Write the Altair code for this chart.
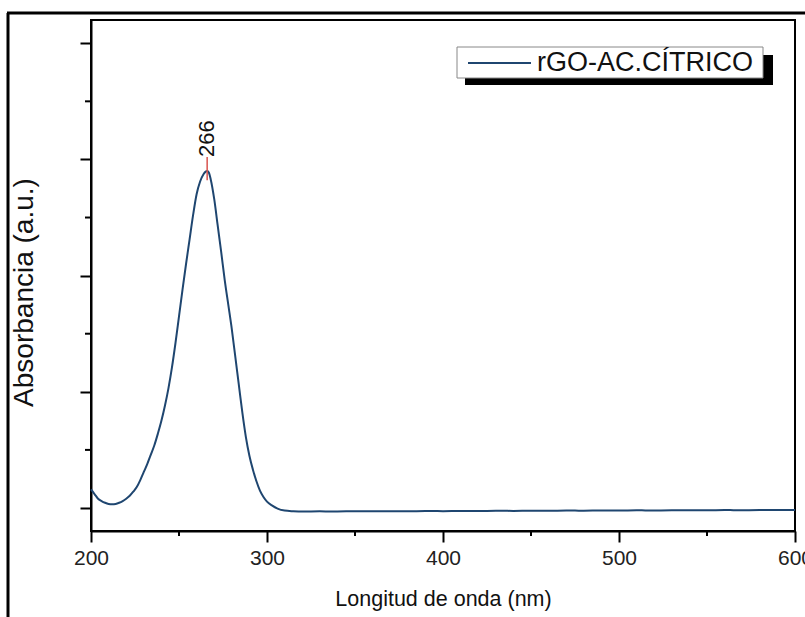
import altair as alt
import pandas as pd

# ---------------- data ----------------
wavelength = [200, 202, 204, 206, 208, 210, 212, 214, 216, 218, 220, 222, 224, 226, 228,
              230, 232, 234, 236, 238, 240, 242, 244, 246, 248, 250, 252, 254, 256, 258,
              260, 262, 264, 265, 266, 267, 268, 270, 272, 274, 276, 278, 280, 282, 284, 286, 288,
              290, 292, 294, 296, 298, 300, 303, 306, 310, 315, 320, 330, 340, 350, 360,
              370, 380, 390, 400, 410, 420, 430, 440, 450, 460, 470, 480, 490, 500, 510,
              520, 530, 540, 550, 560, 570, 580, 590, 600]
absorbance = [0.16, 0.12, 0.08, 0.06, 0.045, 0.035, 0.032, 0.035, 0.045, 0.06, 0.08, 0.105, 0.14, 0.18, 0.24,
              0.31, 0.38, 0.46, 0.54, 0.64, 0.75, 0.88, 1.03, 1.21, 1.42, 1.65, 1.88, 2.10, 2.31, 2.52,
              2.70, 2.81, 2.875, 2.893, 2.90, 2.885, 2.83, 2.66, 2.43, 2.20, 1.96, 1.75, 1.54, 1.30, 1.06, 0.82, 0.61,
              0.45, 0.33, 0.23, 0.15, 0.095, 0.055, 0.02, -0.005, -0.022, -0.028, -0.031, -0.029, -0.03, -0.028, -0.029,
              -0.027, -0.028, -0.026, -0.027, -0.025, -0.026, -0.024, -0.025, -0.023, -0.024, -0.022, -0.023, -0.021, -0.022, -0.02,
              -0.021, -0.02, -0.019, -0.02, -0.018, -0.019, -0.018, -0.017, -0.017]

peak_nm = [266]
peak_abs = [2.90]
peak_text = ["266"]

x_major = [200, 300, 400, 500, 600]
x_minor = [250, 350, 450, 550]
y_major = [0, 1, 2, 3, 4]
y_minor = [0.5, 1.5, 2.5, 3.5]

series_label = "rGO-AC.CÍTRICO"
x_title = "Longitud de onda (nm)"
y_title = "Absorbancia (a.u.)"

FONT = "Liberation Sans"
LINE_COLOR = "#1f4670"

# ---------------- tables ----------------
curve = pd.DataFrame({"nm": wavelength, "val": absorbance})
peak = pd.DataFrame({"nm": peak_nm, "val": peak_abs, "label": peak_text})
xminor = pd.DataFrame({"nm": x_minor})
yminor = pd.DataFrame({"val": y_minor})
one = alt.Data(values=[{"k": 1}])

xscale = alt.Scale(domain=[200, 600], nice=False, zero=False)
yscale = alt.Scale(domain=[-0.198, 4.2], nice=False, zero=False)

line = alt.Chart(curve).mark_line(color=LINE_COLOR, strokeWidth=2, interpolate="monotone").encode(
    x=alt.X("nm:Q", scale=xscale, axis=alt.Axis(
        values=x_major, title=x_title, tickSize=11, tickWidth=2, domainWidth=2,
        domainColor="black", tickColor="black", labelFontSize=21, labelColor="#222",
        labelFont=FONT, titleFont=FONT, titleFontSize=21.5, titleFontWeight="normal",
        titleColor="#111", labelPadding=5, titlePadding=20, grid=False, labelFlush=False)),
    y=alt.Y("val:Q", scale=yscale, axis=alt.Axis(
        values=y_major, labels=False, title=y_title, tickSize=11, tickWidth=2,
        domainWidth=2, domainColor="black", tickColor="black", titleFont=FONT,
        titleFontSize=28, titleFontWeight="normal", titleColor="#111",
        titleX=-67, titleY=272, titleBaseline="middle", titleAngle=270, grid=False)),
)

peak_tick = alt.Chart(peak).transform_calculate(
    lo="datum.val - 0.08", hi="datum.val + 0.12"
).mark_rule(color="#d9534f", strokeWidth=1.5).encode(
    x=alt.X("nm:Q", scale=xscale), y=alt.Y("lo:Q", scale=yscale), y2="hi:Q")

peak_label = alt.Chart(peak).mark_text(
    angle=270, align="left", baseline="middle", dx=14, fontSize=22, font=FONT, color="#111"
).encode(x=alt.X("nm:Q", scale=xscale), y=alt.Y("val:Q", scale=yscale), text="label:N")

minor_x = alt.Chart(xminor).mark_rule(color="black", strokeWidth=2).encode(
    x=alt.X("nm:Q", scale=xscale), y=alt.value(511), y2=alt.value(516))
minor_y = alt.Chart(yminor).mark_rule(color="black", strokeWidth=2).encode(
    y=alt.Y("val:Q", scale=yscale), x=alt.value(0), x2=alt.value(-6))

shadow = alt.Chart(one).mark_rect(color="black").encode(
    x=alt.value(374), x2=alt.value(682), y=alt.value(35), y2=alt.value(65))
box = alt.Chart(one).mark_rect(fill="white", stroke="#888", strokeWidth=1).encode(
    x=alt.value(366), x2=alt.value(672), y=alt.value(27), y2=alt.value(58))
sample = alt.Chart(one).mark_rule(color=LINE_COLOR, strokeWidth=2).encode(
    x=alt.value(377), x2=alt.value(440), y=alt.value(43))
legend_text = alt.Chart(one).mark_text(
    align="left", baseline="middle", fontSize=27, font=FONT, color="#111"
).encode(x=alt.value(446), y=alt.value(43), text=alt.value(series_label))

frame_left = alt.Chart(one).mark_rule(color="black", strokeWidth=3).encode(
    x=alt.value(-83), y=alt.value(-7), y2=alt.value(600))
frame_top = alt.Chart(one).mark_rule(color="black", strokeWidth=3).encode(
    x=alt.value(-84), x2=alt.value(720), y=alt.value(-7))

chart = alt.layer(
    line, peak_tick, peak_label, minor_x, minor_y,
    shadow, box, sample, legend_text, frame_left, frame_top
).properties(
    width=704, height=511,
    autosize=alt.AutoSizeParams(type="none"),
    padding={"left": 91, "top": 20, "right": 10, "bottom": 86},
    background="white",
).configure_view(stroke="black", strokeWidth=2)

chart.save("out.html", embed_options={"renderer": "svg", "actions": False})
